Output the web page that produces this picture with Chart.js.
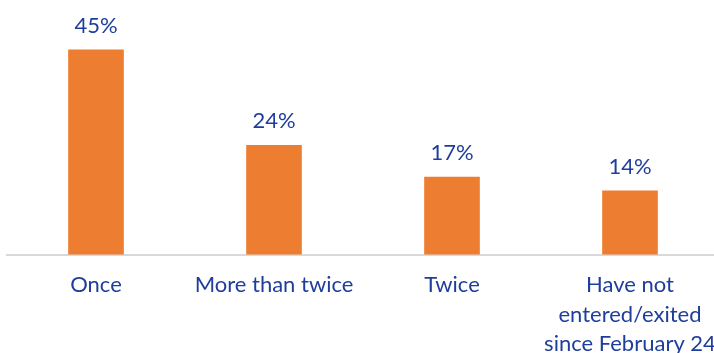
<!DOCTYPE html>
<html>
<head>
<meta charset="utf-8">
<script src="https://cdn.jsdelivr.net/npm/chart.js@4"></script>
<style>
html,body{margin:0;padding:0;background:#fff;overflow:hidden;width:714px;height:353px;}
#wrap{position:absolute;left:0;top:0;width:726px;height:375px;}
</style>
</head>
<body>
<div id="wrap"><canvas id="c" width="726" height="375"></canvas></div>
<script>
const categories = ["Once", "More than twice", "Twice", ["Have not", "entered/exited", "since February 24"]];
const values = [45, 24, 17, 14];
const valueLabels = ["45%", "24%", "17%", "14%"];

const textColor = "#1F3E9C";
const fontFamily = "Lato, 'Open Sans', sans-serif";

const valueLabelPlugin = {
  id: "valueLabels",
  afterDatasetsDraw(chart) {
    const ctx = chart.ctx;
    const meta = chart.getDatasetMeta(0);
    ctx.save();
    ctx.fillStyle = textColor;
    ctx.font = "22px " + fontFamily;
    ctx.textAlign = "center";
    ctx.textBaseline = "middle";
    meta.data.forEach((bar, i) => {
      ctx.fillText(valueLabels[i], bar.x, bar.y - 24);
    });
    ctx.restore();
  }
};

new Chart(document.getElementById("c"), {
  type: "bar",
  data: {
    labels: categories,
    datasets: [{
      data: values,
      backgroundColor: "#ED7D31",
      borderWidth: 0,
      barThickness: 55
    }]
  },
  options: {
    responsive: false,
    animation: false,
    layout: { padding: { left: 7, right: 7, top: 27, bottom: 0 } },
    plugins: { legend: { display: false }, tooltip: { enabled: false } },
    scales: {
      y: { display: false, min: 0, max: 50 },
      x: {
        afterFit(scale) { scale.paddingLeft = 0; scale.paddingRight = 0; },
        grid: { display: false, drawTicks: false },
        border: { display: true, color: "#D9D9D9", width: 2 },
        ticks: {
          color: textColor,
          font: { family: fontFamily, size: 22, lineHeight: 1.34 },
          padding: 16,
          maxRotation: 0,
          autoSkip: false
        }
      }
    }
  },
  plugins: [valueLabelPlugin]
});
</script>
</body>
</html>
